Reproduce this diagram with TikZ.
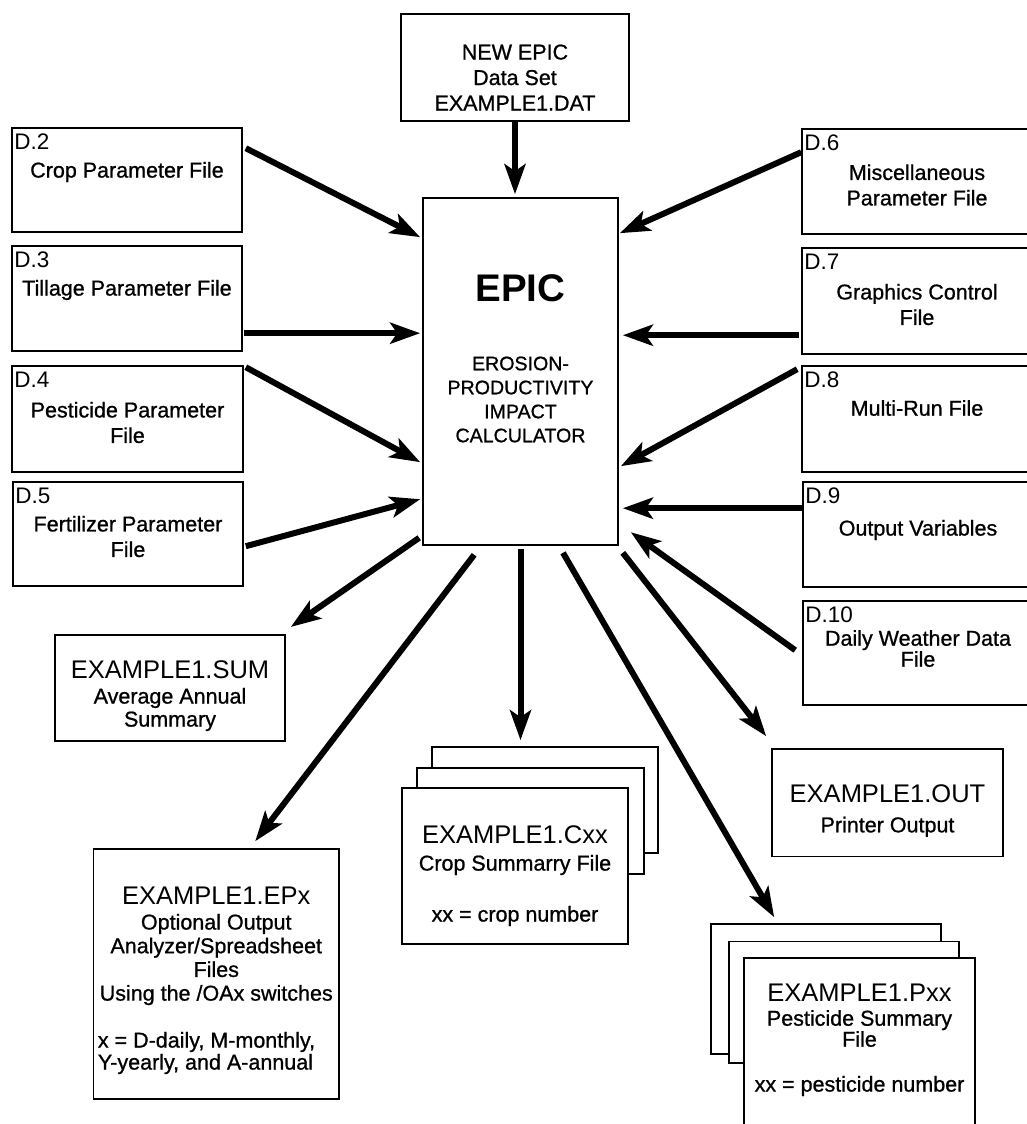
\documentclass[tikz,border=0pt]{standalone}
\usepackage{fontspec}
\setmainfont{Liberation Sans}
\newfontfamily\medfont{Liberation Sans}[FakeBold=0.9]
\usetikzlibrary{arrows.meta,calc,positioning}
\tikzset{
  filebox/.style={draw, line width=1.6pt, fill=white, inner sep=0pt},
  dtag/.style={anchor=base west, inner sep=0pt, font=\fontsize{22.5}{26}\selectfont},
  boxtxt/.style={align=center, inner sep=0pt, font=\medfont\fontsize{21.5}{25.5}\selectfont},
  ttl/.style={inner sep=0pt, font=\fontsize{25.5}{28}\selectfont},
  flow/.style={line width=6pt, -{Stealth[length=30pt,width=21pt,inset=7pt]}},
}

\begin{document}
\begin{tikzpicture}[x=1pt,y=-1pt]
	\useasboundingbox (0,0) rectangle (1026,1124);

	% the model itself
	\node[filebox, minimum width=195, minimum height=347] (epic) at (520.5,371.5) {};
	\node[inner sep=0pt, font=\fontsize{38.5}{42}\selectfont\bfseries] (epicT) at ($(epic)+(0,-83.5)$) {EPIC};
	\node[align=center, inner sep=0pt, font=\medfont\fontsize{19.6}{24}\selectfont] (epicS) at ($(epic)+(0,28)$) {EROSION-\\PRODUCTIVITY\\IMPACT\\CALCULATOR};

	\node[filebox, minimum width=228, minimum height=107] (newepic) at (515,67.5) {};
	\node[boxtxt] (newepicT) at ($(newepic)+(0,10)$) {NEW EPIC\\Data Set\\EXAMPLE1.DAT};

	% input files, left
	\node[filebox, minimum width=230, minimum height=104] (d2) at (127,180) {};
	\node[dtag] (d2L) at ($(d2.north west)+(3,22)$) {D.2};
	\node[boxtxt] (d2T) at ($(d2)+(0,-8)$) {Crop Parameter File};

	\node[filebox, minimum width=230, minimum height=105] (d3) at (127,298.5) {};
	\node[dtag] (d3L) at ($(d3.north west)+(3,22)$) {D.3};
	\node[boxtxt] (d3T) at ($(d3)+(0,-8.5)$) {Tillage Parameter File};

	\node[filebox, minimum width=231, minimum height=106] (d4) at (127.5,419) {};
	\node[dtag] (d4L) at ($(d4.north west)+(3,22)$) {D.4};
	\node[boxtxt] (d4T) at ($(d4)+(0,3.5)$) {Pesticide Parameter\\File};

	\node[filebox, minimum width=230, minimum height=104] (d5) at (128,534) {};
	\node[dtag] (d5L) at ($(d5.north west)+(3,22)$) {D.5};
	\node[boxtxt] (d5T) at ($(d5)+(0,2.5)$) {Fertilizer Parameter\\File};

	% input files, right
	\node[filebox, minimum width=230, minimum height=105] (d6) at (917,181.5) {};
	\node[dtag] (d6L) at ($(d6.north west)+(3,22)$) {D.6};
	\node[boxtxt] (d6T) at ($(d6)+(0,3.5)$) {Miscellaneous\\Parameter File};

	\node[filebox, minimum width=230, minimum height=106] (d7) at (917,301) {};
	\node[dtag] (d7L) at ($(d7.north west)+(3,22)$) {D.7};
	\node[boxtxt] (d7T) at ($(d7)+(0,3.5)$) {Graphics Control\\File};

	\node[filebox, minimum width=230, minimum height=106] (d8) at (917,419) {};
	\node[dtag] (d8L) at ($(d8.north west)+(3,22)$) {D.8};
	\node[boxtxt] (d8T) at ($(d8)+(0,-11)$) {Multi-Run File};

	\node[filebox, minimum width=230, minimum height=105] (d9) at (918,534.5) {};
	\node[dtag] (d9L) at ($(d9.north west)+(3,22)$) {D.9};
	\node[boxtxt] (d9T) at ($(d9)+(0,-4.5)$) {Output Variables};

	\node[filebox, minimum width=230, minimum height=104] (d10) at (918,653) {};
	\node[dtag] (d10L) at ($(d10.north west)+(3,22)$) {D.10};
	\node[boxtxt, font=\medfont\fontsize{21.5}{21}\selectfont] (d10T) at ($(d10)+(0,-4.5)$) {Daily Weather Data\\File};

	% output files
	\node[filebox, minimum width=230, minimum height=105.5] (sum) at (170,688) {};
	\node[ttl] (sumT) at ($(sum)+(0,-18)$) {EXAMPLE1.SUM};
	\node[boxtxt, font=\medfont\fontsize{21.5}{23}\selectfont] (sumS) at ($(sum)+(0,21.5)$) {Average Annual\\Summary};

	\node[filebox, minimum width=245.5, minimum height=250] (epx) at (216.25,974) {};
	\node[ttl] (epxT) at ($(epx)+(0,-78)$) {EXAMPLE1.EPx};
	\node[boxtxt, font=\medfont\fontsize{21.5}{23.7}\selectfont] (epxS) at ($(epx)+(0,-14.5)$) {Optional Output\\Analyzer/Spreadsheet\\Files\\Using the /OAx switches};
	\node[boxtxt, align=left, anchor=west, font=\medfont\fontsize{21.5}{22}\selectfont] (epxK) at ($(epx.west)+(5,79)$) {x = D-daily, M-monthly,\\Y-yearly, and A-annual};

	\node[filebox, minimum width=226, minimum height=106] (cxxA) at (545,800) {};
	\node[filebox, minimum width=227, minimum height=106] (cxxB) at (530.5,821) {};
	\node[filebox, minimum width=226, minimum height=156] (cxx) at (515,866) {};
	\node[ttl] (cxxT) at ($(cxx)+(0,-31)$) {EXAMPLE1.Cxx};
	\node[boxtxt] (cxxS) at ($(cxx)+(0,-1)$) {Crop Summarry File};
	\node[boxtxt] (cxxK) at ($(cxx)+(0,50)$) {xx = crop number};

	\node[filebox, minimum width=231, minimum height=107.5] (out) at (887.5,802.75) {};
	\node[ttl] (outT) at ($(out)+(0,-9)$) {EXAMPLE1.OUT};
	\node[boxtxt] (outS) at ($(out)+(0,24)$) {Printer Output};

	\node[filebox, minimum width=230, minimum height=130] (pxxA) at (826,989) {};
	\node[filebox, minimum width=230, minimum height=121.5] (pxxB) at (844,1002.25) {};
	\node[filebox, minimum width=231, minimum height=182] (pxx) at (859.5,1049) {};
	\node[ttl] (pxxT) at ($(pxx)+(0,-56)$) {EXAMPLE1.Pxx};
	\node[boxtxt, font=\medfont\fontsize{21.5}{21}\selectfont] (pxxS) at ($(pxx)+(0,-20.5)$) {Pesticide Summary\\File};
	\node[boxtxt] (pxxK) at ($(pxx)+(0,37)$) {xx = pesticide number};

	% arrows in
	\draw[flow] (newepic.south) -- ($(newepic.south |- epic.north)+(0,-3)$);
	\draw[flow] ($(d2.north east)+(3,21)$) -- ($(epic.north west)+(-2,40)$);
	\draw[flow] ($(d3.north east)+(1,88)$) -- ($(epic.north west)+(-2,136)$);
	\draw[flow] ($(d4.north east)+(2,2)$) -- ($(epic.north west)+(-2,265)$);
	\draw[flow] ($(d5.north east)+(2,65)$) -- ($(epic.north west)+(-2,302)$);
	\draw[flow] ($(d6.north west)+(0,24)$) -- ($(epic.north east)+(1,36)$);
	\draw[flow] ($(d7.north west)+(-2,88)$) -- ($(epic.north east)+(4,138)$);
	\draw[flow] ($(d8.north west)+(-4,4)$) -- ($(epic.north east)+(2,269)$);
	\draw[flow] ($(d9.north west)+(0,27)$) -- ($(epic.north east)+(4,311)$);
	\draw[flow] ($(d10.north west)+(-7,50)$) -- ($(epic.north east)+(12,335)$);

	% arrows out
	\draw[flow] ($(epic.south west)+(-3,-8)$) -- ($(sum.north east)+(5,-7.5)$);
	\draw[flow] ($(epic.south west)+(52,9)$) -- ($(epx.north)+(39,-7)$);
	\draw[flow] ($(epic.south)+(0,3)$) -- ($(epic.south |- cxxA.north)+(0,-6)$);
	\draw[flow] ($(epic.south)+(42.5,7)$) -- ($(pxxA.north west)+(64,-6)$);
	\draw[flow] ($(epic.south east)+(4,7)$) -- ($(out.north west)+(-5,-12)$);
\end{tikzpicture}
\end{document}
